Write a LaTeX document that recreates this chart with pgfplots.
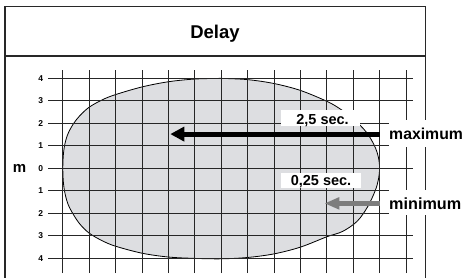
\documentclass[border=0pt]{standalone}
\usepackage{pgfplots}
\pgfplotsset{compat=1.18}
\usepackage{fontspec}
\setmainfont{Liberation Sans}
\usetikzlibrary{arrows.meta}
\definecolor{ellfill}{RGB}{221,222,225}
\definecolor{arrgray}{RGB}{125,125,125}
\definecolor{framecol}{RGB}{40,40,40}
\begin{document}
\begin{tikzpicture}
% frame
\draw[framecol, line width=1.3pt] (5pt,-10pt) -- (5pt,270.7pt) -- (425.7pt,270.7pt) -- (425.7pt,-10pt);
\draw[framecol, line width=1.5pt] (5pt,221pt) -- (425.7pt,221pt);
\node[anchor=base, font=\bfseries\fontsize{18.5}{20}\selectfont] at (215pt,238.7pt) {Delay};
\node[anchor=base, font=\bfseries\fontsize{15}{16}\selectfont] at (19.5pt,104.3pt) {m};
\begin{axis}[
  set layers,
  at={(48.3pt,4pt)}, anchor=south west,
  scale only axis, width=364.3pt, height=202.95pt,
  xmin=-0.55, xmax=13.25, ymin=-4.65, ymax=4.37,
  axis line style={draw=none},
  xtick={0,...,13}, ytick={-4,...,4},
  xticklabels={}, yticklabels={4,3,2,1,0,1,2,3,4},
  major tick length=0pt,
  grid=major, grid style={black!85, line width=0.8pt},
  yticklabel style={font=\bfseries\fontsize{8.5}{9}\selectfont, anchor=east, inner sep=0pt, xshift=-5pt},
  clip=false,
]
\addplot[on layer=axis background, fill=ellfill, draw=black, line width=0.8pt, smooth, tension=0.55] coordinates {
(6,4.0) (7,3.944) (8,3.771) (9,3.464) (10,2.981) (10.5,2.646) (11,2.211) (11.5,1.606) (11.8,1.02) (11.95,0.515) (12,0)
(11.95,-0.52) (11.83,-1.0) (11.55,-1.7) (11.15,-2.35) (10.6,-2.8) (10,-3.04) (9,-3.5) (8,-3.8) (7,-3.96) (6,-4.02)
(5,-4.0) (4,-3.94) (3,-3.77) (2,-3.46) (1.5,-3.22) (1,-2.88) (0.65,-2.48) (0.4,-2.05) (0.2,-1.6) (0.08,-1.1) (0.02,-0.6)
(0,0) (0.02,0.6) (0.08,1.1) (0.2,1.55) (0.4,1.98) (0.65,2.35) (1,2.72) (1.5,3.05) (2,3.28) (3,3.62) (4,3.85) (5,3.97)
(6,4.0)
} -- cycle;
\addplot[line width=5pt, black, -{Triangle[length=14pt,width=14pt]}] coordinates {(12,1.524) (4.07,1.524)};
\addplot[line width=4.5pt, arrgray, -{Triangle[length=15pt,width=11.5pt]}] coordinates {(12,-1.556) (9.91,-1.556)};
\fill[white] (axis cs:8.27,1.90) rectangle (axis cs:11.26,2.59);
\fill[white] (axis cs:8.27,-0.876) rectangle (axis cs:11.3,-0.209);
\node[anchor=base, inner sep=0pt, font=\bfseries\fontsize{14.5}{15}\selectfont] at (axis cs:9.84,1.97) {2,5 sec.};
\node[anchor=base, inner sep=0pt, font=\bfseries\fontsize{14.5}{15}\selectfont] at (axis cs:9.78,-0.764) {0,25 sec.};
\end{axis}
\fill[white] (388.5pt,130pt) rectangle (466pt,157.5pt);
\fill[white] (388.5pt,62.5pt) rectangle (466pt,87pt);
\node[anchor=base west, inner sep=0pt, font=\bfseries\fontsize{15.8}{16}\selectfont] at (389pt,138pt) {maximum};
\node[anchor=base west, inner sep=0pt, font=\bfseries\fontsize{16.2}{17}\selectfont] at (389pt,68pt) {minimum};
\pgfresetboundingbox
\path[use as bounding box] (0pt,0pt) rectangle (465pt,277pt);
\end{tikzpicture}
\end{document}
